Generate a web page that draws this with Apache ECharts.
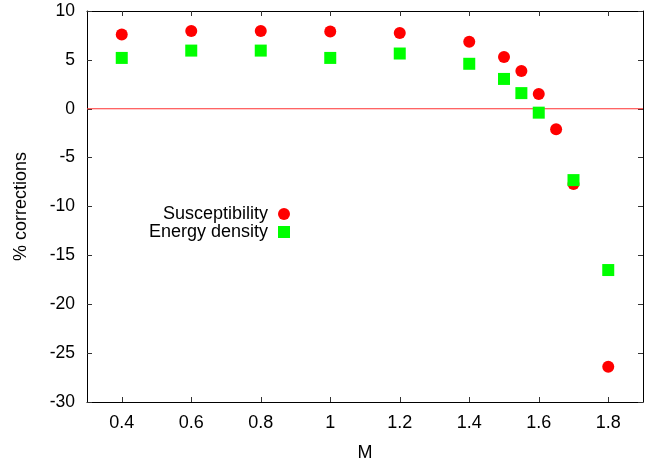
<!DOCTYPE html>
<html>
<head>
<meta charset="utf-8">
<script src="https://cdn.jsdelivr.net/npm/echarts@6/dist/echarts.min.js"></script>
<style>
  html, body { margin: 0; padding: 0; background: #fff; }
  #chart { width: 659px; height: 462px; }
</style>
</head>
<body>
<div id="chart"></div>
<script>
// Mass values and percentage corrections for each observable
const suscM = [0.4, 0.6, 0.8, 1.0, 1.2, 1.4, 1.5, 1.55, 1.6, 1.65, 1.7, 1.8];
const suscCorr = [7.6, 7.95, 7.95, 7.9, 7.75, 6.85, 5.3, 3.85, 1.5, -2.1, -7.7, -26.4];
const energyM = [0.4, 0.6, 0.8, 1.0, 1.2, 1.4, 1.5, 1.55, 1.6, 1.7, 1.8];
const energyCorr = [5.2, 5.95, 5.95, 5.2, 5.65, 4.6, 3.05, 1.6, -0.4, -7.3, -16.5];
const xTicks = [0.4, 0.6, 0.8, 1.0, 1.2, 1.4, 1.6, 1.8];
const xRange = [0.3, 1.9];
const yRange = [-30, 10];

const FONT = 'Liberation Sans';
const zip = (xs, ys) => xs.map((x, i) => [x, ys[i]]);

const tickStyle = () => ({ show: true, inside: true, length: 5, lineStyle: { color: '#333', width: 1 } });
const frameLine = () => ({ show: true, onZero: false, lineStyle: { color: '#000', width: 1 } });

const chart = echarts.init(document.getElementById('chart'), null, { renderer: 'canvas' });
chart.setOption({
  animation: false,
  backgroundColor: '#fff',
  textStyle: { fontFamily: FONT, color: '#000' },
  grid: { left: 87, right: 16, top: 11, bottom: 60, containLabel: false, outerBoundsMode: 'none' },
  legend: {
    orient: 'vertical',
    align: 'right',
    right: 364,
    top: 200,
    itemWidth: 12,
    itemHeight: 12,
    itemGap: 0,
    textStyle: { fontFamily: FONT, fontSize: 18, color: '#000', padding: [0, 5, 0, 0] },
    data: [
      { name: 'Susceptibility', icon: 'circle' },
      { name: 'Energy density', icon: 'rect' }
    ]
  },
  xAxis: [
    {
      type: 'value', min: xRange[0], max: xRange[1], position: 'bottom',
      name: 'M', nameLocation: 'middle', nameGap: 42,
      nameTextStyle: { fontFamily: FONT, fontSize: 18, color: '#000' },
      axisLine: frameLine(),
      axisTick: Object.assign({ customValues: xTicks }, tickStyle()),
      axisLabel: { customValues: xTicks, fontFamily: FONT, fontSize: 18, color: '#000', margin: 12,
        formatter: v => String(+v.toFixed(1)) },
      splitLine: { show: false }
    },
    {
      type: 'value', min: xRange[0], max: xRange[1], position: 'top',
      axisLine: frameLine(),
      axisTick: Object.assign({ customValues: xTicks }, tickStyle()),
      axisLabel: { show: false },
      splitLine: { show: false }
    }
  ],
  yAxis: [
    {
      type: 'value', min: yRange[0], max: yRange[1], interval: 5, position: 'left',
      name: '% corrections', nameLocation: 'middle', nameGap: 57, nameRotate: 90,
      nameTextStyle: { fontFamily: FONT, fontSize: 18, color: '#000' },
      axisLine: frameLine(),
      axisTick: tickStyle(),
      axisLabel: { fontFamily: FONT, fontSize: 17.5, color: '#000', margin: 12 },
      splitLine: { show: false }
    },
    {
      type: 'value', min: yRange[0], max: yRange[1], interval: 5, position: 'right',
      axisLine: frameLine(),
      axisTick: tickStyle(),
      axisLabel: { show: false },
      splitLine: { show: false }
    }
  ],
  series: [
    {
      // horizontal reference line at zero correction, spanning the x range
      name: 'zero', type: 'line', silent: true, symbol: 'none',
      data: xRange.map(x => [x, 0]),
      lineStyle: { color: '#ff3030', width: 1 },
      emphasis: { disabled: true },
      z: 2
    },
    {
      name: 'Susceptibility', type: 'scatter', symbol: 'circle', symbolSize: 12,
      itemStyle: { color: '#ff0000', opacity: 1 },
      data: zip(suscM, suscCorr),
      z: 3
    },
    {
      name: 'Energy density', type: 'scatter', symbol: 'rect', symbolSize: 12,
      itemStyle: { color: '#00ff00', opacity: 1 },
      data: zip(energyM, energyCorr),
      z: 4
    }
  ]
});
</script>
</body>
</html>
